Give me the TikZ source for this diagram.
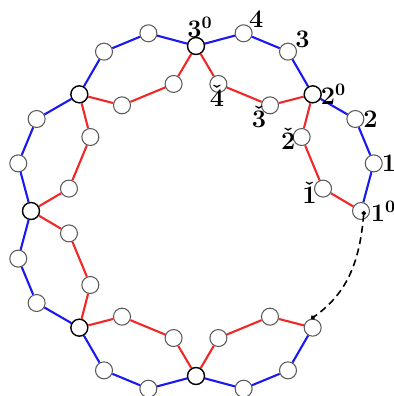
\documentclass[tikz,border=0pt]{standalone}
\usepackage{amsmath,amssymb}
\usepackage{tikz}
\usetikzlibrary{arrows.meta,positioning,calc}
\definecolor{Outer}{HTML}{1A1AF0}
\definecolor{Inner}{HTML}{F02828}
\definecolor{Rim}{HTML}{5A5A5A}
\tikzset{
  >=Latex,
  vx/.style={circle,draw=Rim,line width=.6pt,fill=white,minimum size=3.4mm,inner sep=0pt},
  hub/.style={vx,draw=black,line width=.8pt},
  outedge/.style={draw=Outer,line width=1.2pt},
  inedge/.style={draw=Inner,line width=1.2pt},
  lab/.style={font=\Large\boldmath,inner sep=.3pt},
  link/.style={line width=.9pt,dash pattern=on 4pt off 2.5pt,{Circle[length=2.5pt]}-{Circle[length=2.5pt]}}
}

\begin{document}
\begin{tikzpicture}[x=0.02cm,y=0.02cm]
    \useasboundingbox (0,0) rectangle (393,-396);
    \coordinate (c) at (196,-211);
    % the eight joints on the ring
    \foreach \k in {0,1,4,5,6,7}
      \node[hub] (h\k) at ($(c)+({90-45*\k}:165)$) {};
    \node[vx] (h2) at ($(c)+(0:165)$) {};
    \node[vx] (h3) at ($(c)+(-45:165)$) {};
    % one outer and one inner path per sector
    \foreach \k/\n in {0/1,1/2,3/4,4/5,5/6,6/7,7/0} {
      \pgfmathsetmacro\a{90-45*\k}
      \node[vx] (o\k a) at ($(c)+({\a-15}:184)$) {};
      \node[vx] (o\k b) at ($(c)+({\a-30}:184)$) {};
      \node[vx] (i\k a) at ($(c)+({\a-10}:129)$) {};
      \node[vx] (i\k b) at ($(c)+({\a-35}:129)$) {};
      \draw[outedge] (h\k) -- (o\k a) -- (o\k b) -- (h\n);
      \draw[inedge] (h\k) -- (i\k a) -- (i\k b) -- (h\n);
    }
    % labels
    \node[lab,above=-1pt of h0,xshift=.08cm] (l30) {$3^0$};
    \node[lab,above right=-1pt and -1pt of o0a] (l4) {$4$};
    \node[lab,above right=-2pt and 0pt of o0b] (l3) {$3$};
    \node[lab,right=-1pt of h1] (l20) {$2^0$};
    \node[lab,right=-1pt of o1a] (l2) {$2$};
    \node[lab,right=-1pt of o1b] (l1) {$1$};
    \node[lab,right=0pt of h2] (l10) {$1^0$};
    \node[lab,below=-5pt of i0a,xshift=-.03cm] (c4) {$\check{4}$};
    \node[lab,below=-5pt of i0b,xshift=-.22cm] (c3) {$\check{3}$};
    \node[lab,left=-2pt of i1a,yshift=-.04cm] (c2) {$\check{2}$};
    \node[lab,left=-2pt of i1b,yshift=-.08cm] (c1) {$\check{1}$};
    % the open joint
    \coordinate (s) at ($(h2.center)+(3,0)$);
    \draw[link] (s) to[out=-95,in=35] (h3.100);
  \end{tikzpicture}
\end{document}
